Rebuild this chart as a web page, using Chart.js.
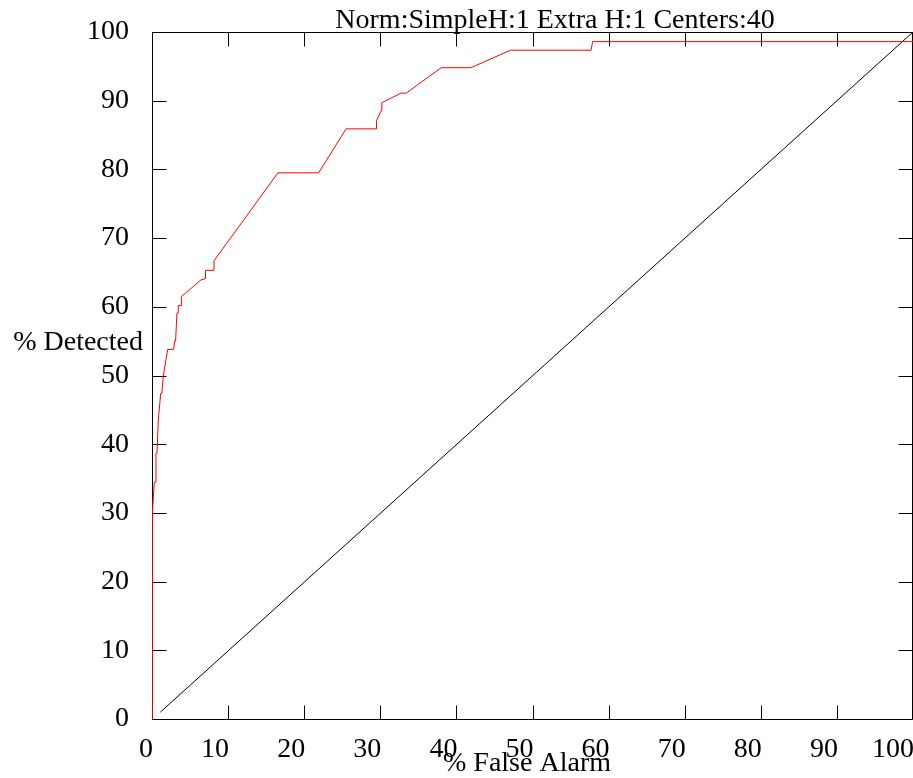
<!DOCTYPE html>
<html>
<head>
<meta charset="utf-8">
<script src="https://cdn.jsdelivr.net/npm/chart.js@4/dist/chart.umd.min.js"></script>
<style>
  html, body { margin: 0; padding: 0; background: #fff; }
  canvas { display: block; }
</style>
</head>
<body>
<canvas id="roc" width="913" height="778"></canvas>
<script>
// ROC curve: % false alarm (x) vs % detected (y)
const chartTitle = 'Norm:SimpleH:1 Extra H:1 Centers:40';
const xTitle = '% False Alarm';
const yTitle = '% Detected';

const falseAlarm = [0, 0, 0.1, 0.3, 0.52, 0.52, 0.66, 0.83, 1.14, 1.3, 1.48, 2.06, 2.84, 2.97, 3.1, 3.28,
  3.45, 3.45, 3.89, 3.89, 6.42, 7.03, 7.03, 8.15, 8.15, 16.55, 21.9, 25.5, 29.5, 29.5, 30.1, 30.2,
  32.7, 33.4, 38.0, 41.9, 47.1, 57.7, 57.9, 100];
const detected = [0, 20, 30, 34.5, 34.5, 38.7, 38.7, 43.5, 47.4, 47.4, 49.9, 53.8, 53.8, 55.0, 55.0, 59.1,
  59.1, 60.2, 60.2, 61.5, 63.9, 64.1, 65.3, 65.3, 66.7, 79.5, 79.5, 85.9, 85.9, 87.1, 88.5, 89.7,
  91.1, 91.1, 94.8, 94.8, 97.35, 97.35, 98.6, 98.6];

// chance line
const chanceX = [1.1, 100];
const chanceY = [1.0, 100];

const toPts = (xs, ys) => xs.map((x, i) => ({ x, y: ys[i] }));

const FONT = '"Liberation Serif", "Times New Roman", serif';
Chart.defaults.font.family = FONT;
Chart.defaults.font.size = 28;
Chart.defaults.color = '#000';

// gnuplot style frame with ticks pointing inwards, plus the free text
const framePlugin = {
  id: 'frame',
  beforeDatasetsDraw(chart){
    const { ctx, chartArea: a, scales: { x, y } } = chart;
    const L = Math.round(a.left) + 0.5, R = Math.round(a.right) - 0.5;
    const T = Math.round(a.top) + 0.5, B = Math.round(a.bottom) + 0.5;
    const tl = 14;
    ctx.save();
    ctx.strokeStyle = '#000';
    ctx.lineWidth = 1;
    ctx.beginPath();
    ctx.rect(L, T, R - L, B - T);
    x.ticks.forEach(t => {
      const px = Math.round(x.getPixelForValue(t.value)) + 0.5;
      ctx.moveTo(px, B); ctx.lineTo(px, B - tl);
      ctx.moveTo(px, T); ctx.lineTo(px, T + tl);
    });
    y.ticks.forEach(t => {
      const py = Math.round(y.getPixelForValue(t.value)) + 0.5;
      ctx.moveTo(L, py); ctx.lineTo(L + tl, py);
      ctx.moveTo(R, py); ctx.lineTo(R - tl, py);
    });
    ctx.stroke();
    ctx.restore();
  },
  afterDraw(chart){
    const { ctx } = chart;
    ctx.save();
    ctx.fillStyle = '#000';
    ctx.font = '28px ' + FONT;
    ctx.textBaseline = 'alphabetic';
    ctx.textAlign = 'center';
    ctx.fillText(chartTitle, 555, 28);
    ctx.fillText(xTitle, 527, 771);
    ctx.textAlign = 'right';
    ctx.fillText(yTitle, 143, 350);
    ctx.restore();
  }
};

new Chart(document.getElementById('roc').getContext('2d'), {
  type: 'line',
  data: {
    datasets: [
      { label: 'ROC', data: toPts(falseAlarm, detected), borderColor: '#ff0000', borderWidth: 1,
        pointRadius: 0, tension: 0, fill: false },
      { label: 'chance', data: toPts(chanceX, chanceY), borderColor: '#000', borderWidth: 1,
        pointRadius: 0, tension: 0, fill: false }
    ]
  },
  options: {
    responsive: false, animation: false, devicePixelRatio: 1,
    layout: { padding: { top: 32, right: 0, left: 0, bottom: 0 } },
    plugins: { legend: { display: false }, title: { display: false }, tooltip: { enabled: false } },
    scales: {
      x: {
        type: 'linear', min: 0, max: 100,
        grid: { display: false },
        border: { display: false },
        ticks: { stepSize: 10, align: 'end', labelOffset: 1, padding: 6, maxRotation: 0, autoSkip: false },
        afterFit(s){ s.height = 59; s.paddingLeft = 0; s.paddingRight = 0; }
      },
      y: {
        type: 'linear', min: 0, max: 100,
        grid: { display: false },
        border: { display: false },
        ticks: { stepSize: 10, padding: 15 },
        afterFit(s){ s.width = 152; s.paddingTop = 0; s.paddingBottom = 0; }
      }
    }
  },
  plugins: [framePlugin]
});
</script>
</body>
</html>
